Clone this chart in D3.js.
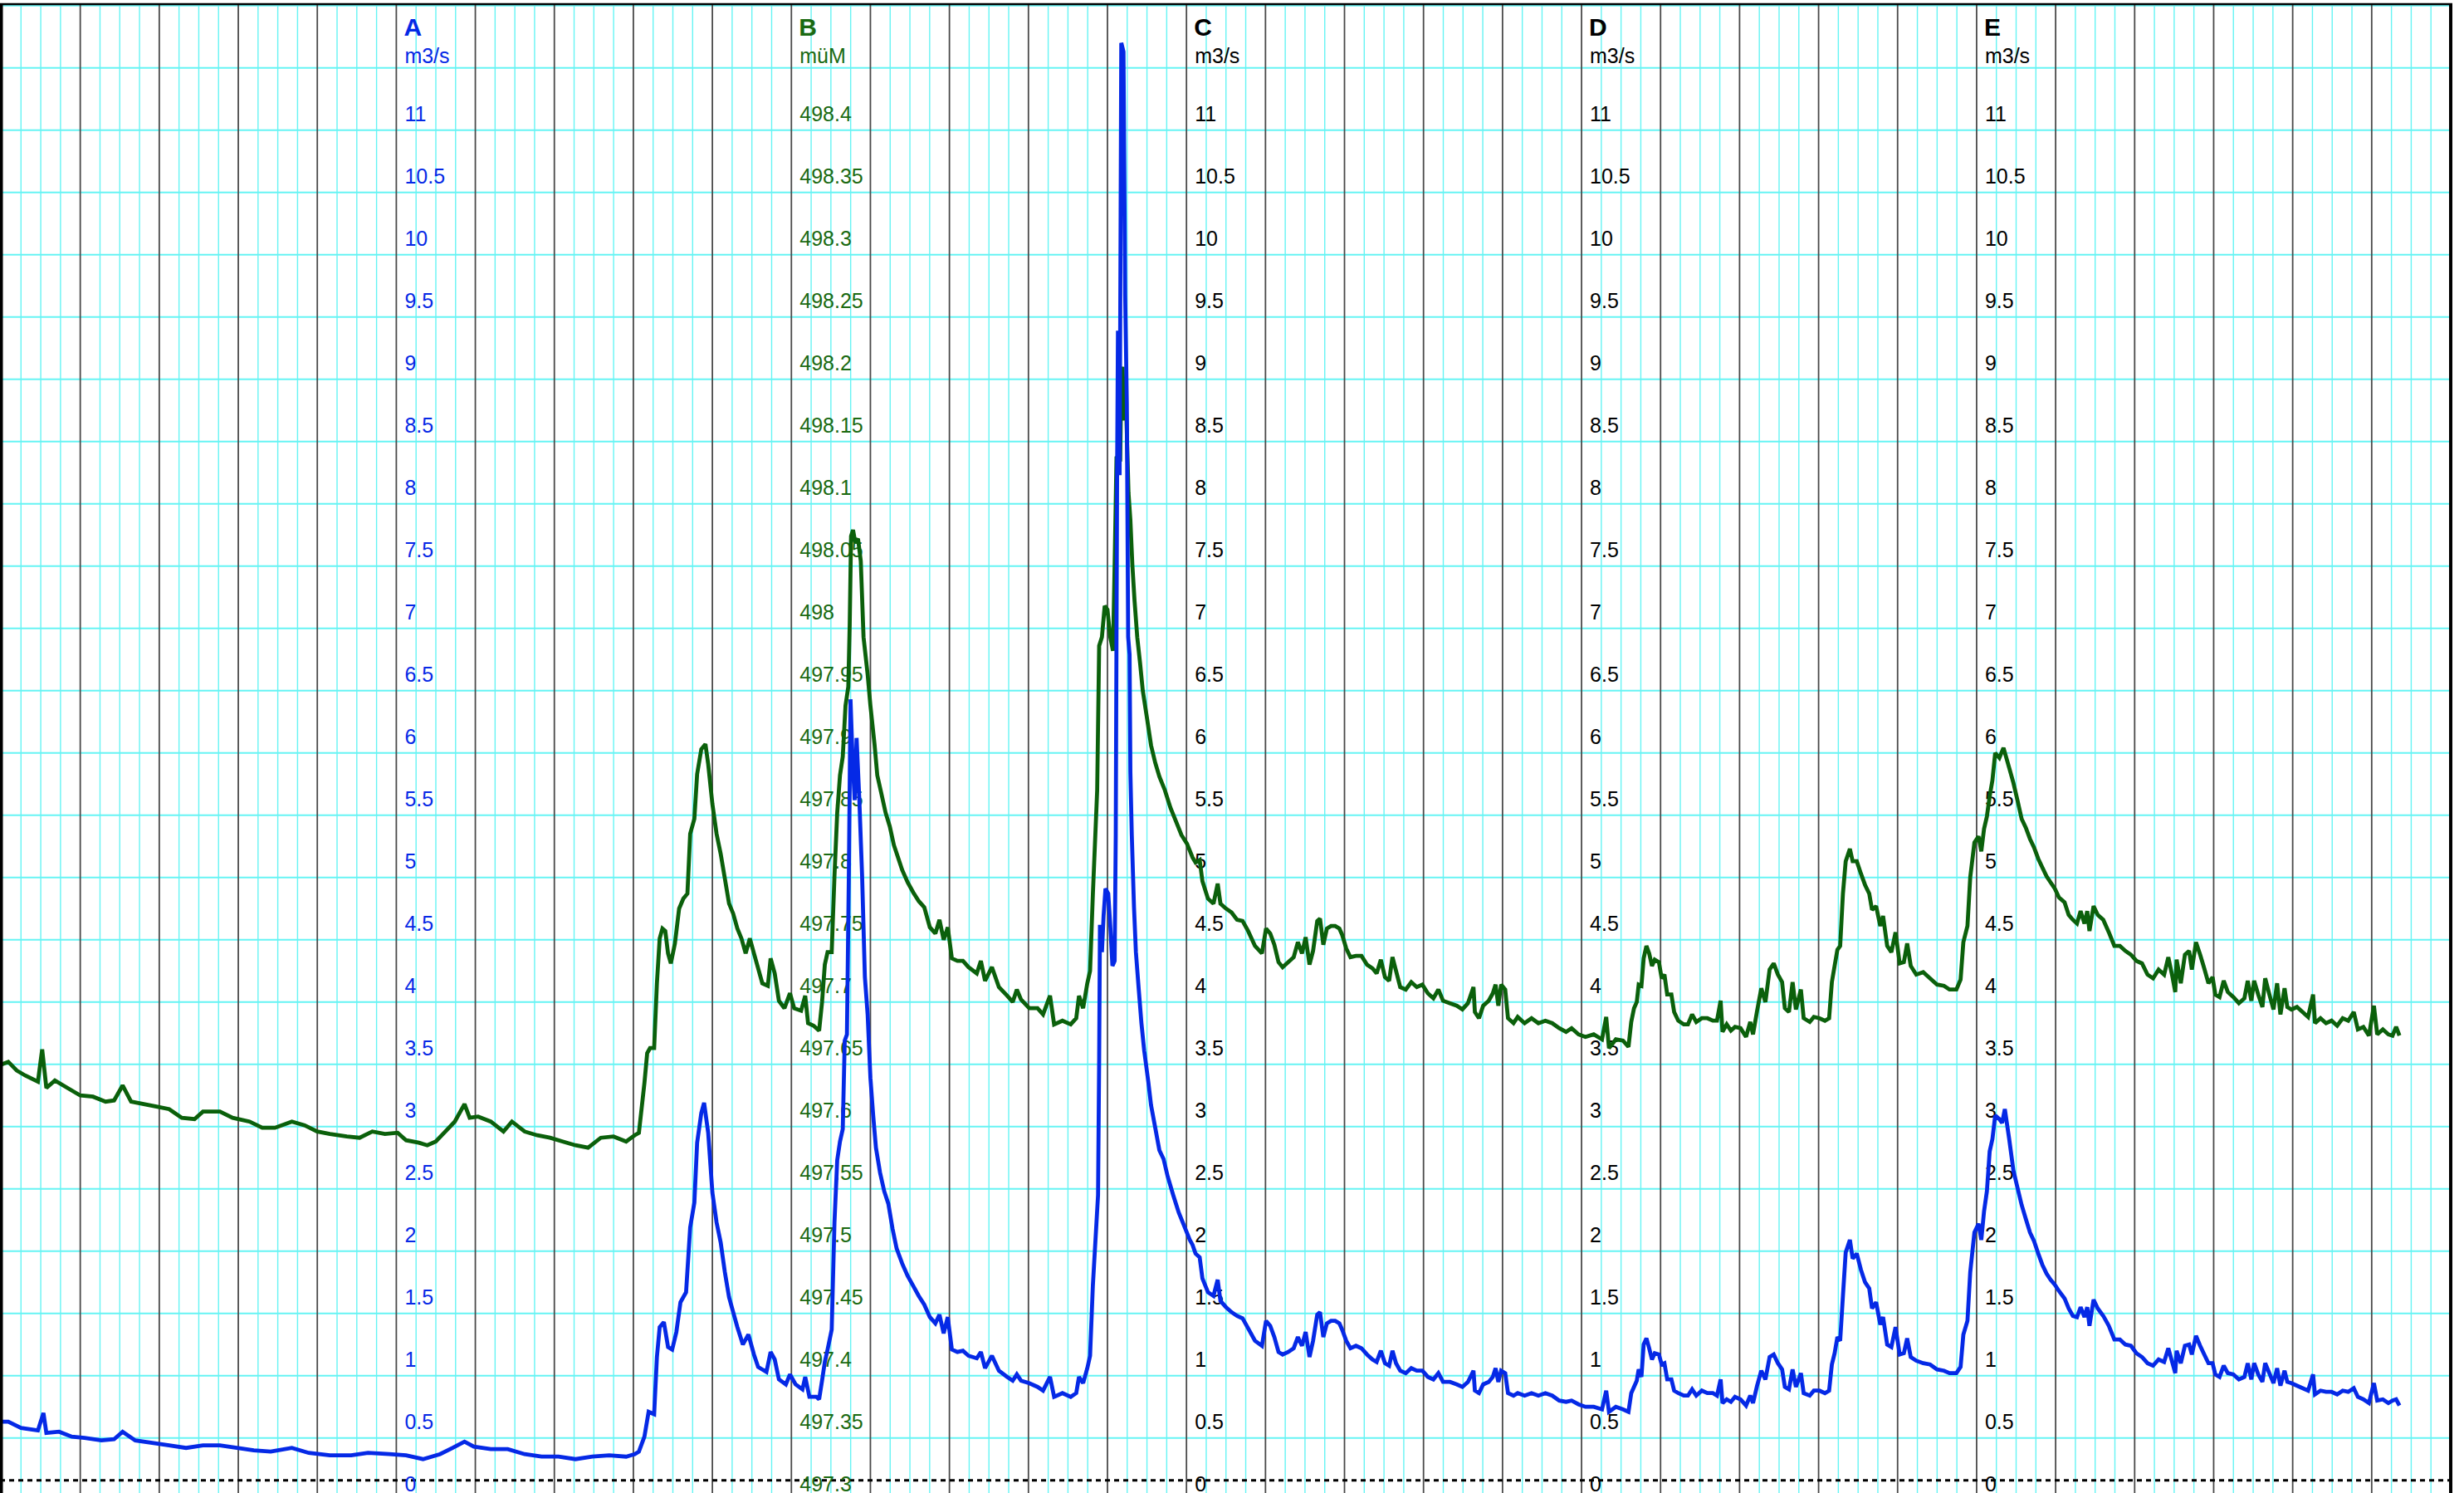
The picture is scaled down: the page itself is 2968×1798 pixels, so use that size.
<!DOCTYPE html>
<html lang="de">
<head>
<meta charset="UTF-8">
<title>Abfluss und Pegel</title>
<style>
  body { margin: 0; background: #fff; }
  svg { display: block; }
</style>
</head>
<body>
<div id="chart"></div>
<script src="https://d3js.org/d3.v7.min.js"></script>
<script>
// days from the start of the window, one dark grid line per day
const dayRange = [0, 31];

// axes standing at day 5, 10, 15, 20, 25
const axisNames = ["A", "B", "C", "D", "E"];
const axisUnits = ["m3/s", "müM", "m3/s", "m3/s", "m3/s"];
const axisDays = [5, 10, 15, 20, 25];

const flowTicks = [0, 0.5, 1, 1.5, 2, 2.5, 3, 3.5, 4, 4.5, 5, 5.5, 6, 6.5, 7, 7.5, 8, 8.5, 9, 9.5, 10, 10.5, 11];
const levelTicks = [497.3, 497.35, 497.4, 497.45, 497.5, 497.55, 497.6, 497.65, 497.7, 497.75, 497.8, 497.85,
  497.9, 497.95, 498, 498.05, 498.1, 498.15, 498.2, 498.25, 498.3, 498.35, 498.4];

// A: discharge in m3/s  [day, value]
const flowA = [
  [0.009,0.47],[0.089,0.47],[0.25,0.42],[0.464,0.40],[0.534,0.54],[0.571,0.38],[0.732,0.39],[0.893,0.35],
  [1.054,0.34],[1.268,0.32],[1.428,0.33],[1.536,0.39],[1.696,0.32],[1.91,0.30],[2.125,0.28],[2.339,0.26],
  [2.553,0.28],[2.767,0.28],[2.982,0.26],[3.196,0.24],[3.41,0.23],[3.678,0.26],[3.892,0.22],[4.16,0.20],
  [4.428,0.20],[4.642,0.22],[4.91,0.21],[5.124,0.20],[5.338,0.17],[5.553,0.21],[5.713,0.26],[5.863,0.31],
  [5.981,0.27],[6.195,0.25],[6.41,0.25],[6.624,0.21],[6.838,0.19],[7.052,0.19],[7.267,0.17],[7.481,0.19],
  [7.695,0.20],[7.909,0.19],[8.016,0.21],[8.070,0.23],[8.140,0.35],[8.193,0.55],[8.263,0.53],[8.298,0.99],
  [8.333,1.23],[8.386,1.27],[8.439,1.07],[8.491,1.05],[8.544,1.19],[8.596,1.43],[8.667,1.51],[8.719,2.03],
  [8.772,2.23],[8.807,2.71],[8.860,2.95],[8.895,3.03],[8.947,2.79],[9.0,2.31],[9.053,2.07],[9.105,1.91],
  [9.158,1.67],[9.211,1.47],[9.263,1.35],[9.316,1.23],[9.386,1.09],[9.456,1.17],[9.526,1.01],[9.579,0.91],
  [9.684,0.87],[9.737,1.03],[9.789,0.97],[9.842,0.81],[9.930,0.77],[9.982,0.85],[10.053,0.77],[10.140,0.73],
  [10.175,0.83],[10.228,0.67],[10.316,0.67],[10.351,0.65],[10.388,0.80],[10.423,0.95],[10.458,1.05],[10.510,1.21],
  [10.545,2.07],[10.580,2.57],[10.615,2.72],[10.650,2.82],[10.675,3.53],[10.703,3.58],[10.727,4.85],[10.748,6.27],
  [10.773,5.81],[10.801,5.46],[10.825,5.96],[10.860,5.46],[10.895,4.85],[10.930,4.04],[10.965,3.74],[11.0,3.23],
  [11.035,2.93],[11.070,2.67],[11.122,2.47],[11.175,2.32],[11.227,2.22],[11.280,2.02],[11.332,1.86],[11.402,1.74],
  [11.472,1.64],[11.542,1.56],[11.612,1.48],[11.682,1.41],[11.752,1.31],[11.822,1.26],[11.874,1.33],[11.927,1.18],
  [11.979,1.31],[12.031,1.05],[12.101,1.03],[12.171,1.04],[12.241,1.00],[12.346,0.98],[12.398,1.03],[12.451,0.90],
  [12.538,1.00],[12.626,0.88],[12.731,0.83],[12.801,0.80],[12.853,0.85],[12.906,0.80],[13.010,0.78],[13.115,0.75],
  [13.185,0.72],[13.273,0.83],[13.325,0.67],[13.430,0.70],[13.535,0.67],[13.605,0.70],[13.640,0.83],[13.692,0.78],
  [13.745,0.90],[13.780,1.00],[13.815,1.56],[13.881,2.29],[13.895,3.38],[13.905,4.46],[13.930,4.24],[13.951,4.53],
  [13.975,4.75],[14.010,4.71],[14.035,4.46],[14.063,4.13],[14.091,4.17],[14.105,5.18],[14.122,8.07],[14.133,9.23],
  [14.154,8.07],[14.175,11.54],[14.203,11.47],[14.224,9.52],[14.245,8.65],[14.262,6.77],[14.280,6.63],[14.290,5.69],
  [14.308,5.18],[14.336,4.60],[14.360,4.24],[14.395,3.95],[14.430,3.67],[14.465,3.45],[14.517,3.20],[14.552,3.01],
  [14.605,2.83],[14.657,2.65],[14.710,2.58],[14.762,2.44],[14.832,2.29],[14.902,2.15],[14.972,2.04],[15.042,1.93],
  [15.077,1.89],[15.115,1.82],[15.167,1.79],[15.202,1.62],[15.272,1.51],[15.342,1.48],[15.395,1.61],[15.430,1.44],
  [15.500,1.39],[15.570,1.35],[15.640,1.32],[15.710,1.30],[15.780,1.22],[15.867,1.12],[15.955,1.08],[16.007,1.28],
  [16.060,1.24],[16.112,1.15],[16.165,1.03],[16.217,1.01],[16.287,1.03],[16.357,1.06],[16.410,1.15],[16.462,1.08],
  [16.508,1.19],[16.557,0.99],[16.602,1.12],[16.655,1.33],[16.690,1.35],[16.732,1.15],[16.777,1.26],[16.830,1.28],
  [16.882,1.28],[16.935,1.26],[16.970,1.21],[17.022,1.12],[17.075,1.06],[17.145,1.08],[17.215,1.06],[17.285,1.01],
  [17.355,0.97],[17.407,0.95],[17.460,1.04],[17.512,0.94],[17.565,0.92],[17.607,1.04],[17.652,0.94],[17.705,0.88],
  [17.775,0.86],[17.845,0.90],[17.915,0.88],[17.985,0.88],[18.055,0.83],[18.125,0.81],[18.188,0.86],[18.247,0.79],
  [18.335,0.79],[18.422,0.77],[18.492,0.75],[18.562,0.79],[18.632,0.88],[18.650,0.72],[18.702,0.70],[18.755,0.77],
  [18.825,0.79],[18.877,0.83],[18.912,0.90],[18.947,0.79],[18.982,0.88],[19.034,0.86],[19.069,0.70],[19.139,0.68],
  [19.192,0.70],[19.279,0.68],[19.367,0.70],[19.454,0.68],[19.542,0.70],[19.629,0.68],[19.717,0.64],[19.804,0.63],
  [19.874,0.64],[19.962,0.61],[20.049,0.59],[20.154,0.59],[20.259,0.57],[20.312,0.72],[20.347,0.55],[20.434,0.59],
  [20.524,0.57],[20.594,0.55],[20.629,0.70],[20.664,0.75],[20.699,0.80],[20.723,0.89],[20.758,0.83],[20.786,1.09],
  [20.821,1.14],[20.856,1.06],[20.891,0.97],[20.926,1.02],[20.979,1.01],[21.014,0.93],[21.049,0.94],[21.084,0.81],
  [21.137,0.81],[21.172,0.72],[21.224,0.70],[21.294,0.68],[21.347,0.68],[21.399,0.73],[21.452,0.68],[21.522,0.72],
  [21.592,0.70],[21.662,0.70],[21.714,0.68],[21.760,0.81],[21.784,0.62],[21.837,0.65],[21.890,0.63],[21.942,0.67],
  [22.012,0.65],[22.082,0.60],[22.135,0.68],[22.170,0.62],[22.222,0.76],[22.275,0.88],[22.327,0.81],[22.380,0.99],
  [22.432,1.01],[22.485,0.94],[22.538,0.89],[22.573,0.75],[22.625,0.73],[22.671,0.89],[22.713,0.75],[22.776,0.86],
  [22.811,0.70],[22.888,0.68],[22.940,0.72],[23.010,0.72],[23.080,0.70],[23.133,0.72],[23.168,0.93],[23.203,1.02],
  [23.238,1.15],[23.273,1.12],[23.308,1.48],[23.343,1.83],[23.396,1.93],[23.431,1.78],[23.483,1.82],[23.536,1.69],
  [23.588,1.59],[23.641,1.54],[23.676,1.38],[23.728,1.43],[23.781,1.25],[23.816,1.31],[23.868,1.09],[23.921,1.07],
  [23.974,1.23],[24.026,1.01],[24.079,1.02],[24.121,1.14],[24.166,0.99],[24.236,0.96],[24.324,0.94],[24.411,0.93],
  [24.499,0.89],[24.587,0.88],[24.657,0.86],[24.744,0.86],[24.797,0.91],[24.832,1.17],[24.884,1.28],[24.919,1.67],
  [24.972,1.99],[25.024,2.06],[25.059,1.93],[25.094,2.16],[25.130,2.32],[25.165,2.64],[25.200,2.74],[25.235,2.93],
  [25.288,2.90],[25.323,2.87],[25.357,2.98],[25.412,2.74],[25.465,2.49],[25.517,2.35],[25.570,2.21],[25.622,2.10],
  [25.675,1.99],[25.727,1.92],[25.780,1.82],[25.832,1.73],[25.885,1.66],[25.937,1.61],[25.990,1.57],[26.042,1.52],
  [26.113,1.46],[26.165,1.38],[26.218,1.32],[26.270,1.31],[26.316,1.39],[26.365,1.31],[26.400,1.39],[26.428,1.24],
  [26.480,1.45],[26.533,1.38],[26.603,1.32],[26.673,1.24],[26.743,1.13],[26.813,1.13],[26.883,1.09],[26.953,1.08],
  [27.023,1.02],[27.093,0.99],[27.163,0.94],[27.233,0.92],[27.303,0.97],[27.373,0.95],[27.426,1.06],[27.479,0.94],
  [27.514,0.86],[27.531,1.04],[27.584,0.94],[27.636,1.08],[27.689,1.09],[27.724,1.01],[27.776,1.16],[27.829,1.08],
  [27.881,1.01],[27.934,0.94],[27.986,0.94],[28.021,0.85],[28.074,0.83],[28.127,0.92],[28.179,0.86],[28.249,0.85],
  [28.319,0.81],[28.389,0.83],[28.431,0.94],[28.477,0.81],[28.512,0.94],[28.564,0.85],[28.617,0.79],[28.652,0.94],
  [28.705,0.86],[28.757,0.78],[28.803,0.90],[28.845,0.76],[28.897,0.88],[28.932,0.79],[28.985,0.78],[29.054,0.76],
  [29.125,0.74],[29.195,0.72],[29.258,0.85],[29.282,0.69],[29.352,0.72],[29.422,0.71],[29.492,0.71],[29.563,0.69],
  [29.633,0.72],[29.703,0.71],[29.773,0.74],[29.825,0.67],[29.895,0.65],[29.965,0.62],[30.028,0.78],[30.070,0.64],
  [30.141,0.65],[30.211,0.62],[30.263,0.64],[30.309,0.65],[30.351,0.60]
];

// B: water level in müM  [day, value]
const levelB = [
  [0.009,497.634],[0.089,497.636],[0.196,497.629],[0.304,497.625],[0.464,497.620],[0.518,497.646],[0.571,497.615],
  [0.679,497.621],[0.839,497.615],[1.0,497.609],[1.161,497.608],[1.321,497.604],[1.428,497.605],[1.536,497.617],
  [1.643,497.604],[1.803,497.602],[1.964,497.600],[2.125,497.598],[2.285,497.591],[2.446,497.590],[2.553,497.596],
  [2.767,497.596],[2.928,497.591],[3.142,497.588],[3.303,497.583],[3.464,497.583],[3.678,497.588],[3.839,497.585],
  [3.999,497.580],[4.16,497.578],[4.374,497.576],[4.535,497.575],[4.696,497.580],[4.856,497.578],[5.017,497.579],
  [5.124,497.573],[5.285,497.571],[5.392,497.569],[5.499,497.572],[5.606,497.579],[5.74,497.588],[5.863,497.602],
  [5.928,497.591],[6.035,497.592],[6.195,497.588],[6.356,497.580],[6.463,497.588],[6.624,497.580],[6.784,497.577],
  [6.945,497.575],[7.106,497.572],[7.267,497.569],[7.427,497.567],[7.588,497.575],[7.749,497.576],[7.909,497.572],
  [8.016,497.577],[8.070,497.579],[8.140,497.619],[8.175,497.643],[8.211,497.647],[8.263,497.647],[8.298,497.699],
  [8.333,497.735],[8.368,497.743],[8.404,497.741],[8.439,497.723],[8.474,497.715],[8.526,497.731],[8.579,497.759],
  [8.632,497.767],[8.684,497.771],[8.719,497.819],[8.772,497.831],[8.807,497.867],[8.860,497.887],[8.912,497.891],
  [8.947,497.875],[9.0,497.843],[9.053,497.819],[9.105,497.803],[9.158,497.783],[9.211,497.763],[9.263,497.755],
  [9.316,497.743],[9.368,497.735],[9.421,497.723],[9.474,497.735],[9.526,497.723],[9.579,497.711],[9.632,497.699],
  [9.702,497.697],[9.737,497.719],[9.789,497.707],[9.842,497.685],[9.912,497.679],[9.982,497.691],[10.035,497.679],
  [10.123,497.677],[10.175,497.689],[10.211,497.667],[10.281,497.665],[10.351,497.661],[10.388,497.684],[10.423,497.714],
  [10.458,497.724],[10.510,497.724],[10.545,497.785],[10.580,497.836],[10.615,497.866],[10.650,497.881],[10.685,497.922],
  [10.720,497.937],[10.738,497.987],[10.755,498.058],[10.780,498.063],[10.808,498.053],[10.843,498.056],[10.878,498.038],
  [10.913,497.977],[10.965,497.947],[11.0,497.922],[11.052,497.891],[11.087,497.866],[11.140,497.851],[11.192,497.836],
  [11.245,497.825],[11.297,497.810],[11.350,497.800],[11.402,497.790],[11.472,497.780],[11.542,497.772],[11.612,497.765],
  [11.682,497.760],[11.752,497.744],[11.822,497.739],[11.874,497.750],[11.927,497.734],[11.979,497.744],[12.031,497.719],
  [12.101,497.717],[12.171,497.717],[12.241,497.712],[12.346,497.707],[12.398,497.717],[12.451,497.701],[12.538,497.712],
  [12.626,497.696],[12.731,497.689],[12.801,497.684],[12.853,497.694],[12.906,497.686],[13.010,497.679],[13.115,497.679],
  [13.185,497.674],[13.273,497.689],[13.325,497.666],[13.430,497.669],[13.535,497.666],[13.605,497.671],[13.640,497.689],
  [13.692,497.679],[13.745,497.699],[13.780,497.709],[13.815,497.770],[13.870,497.854],[13.895,497.970],[13.930,497.977],
  [13.965,498.002],[14.0,497.999],[14.035,497.977],[14.070,497.966],[14.091,498.035],[14.115,498.122],[14.161,498.118],
  [14.175,498.187],[14.192,498.194],[14.210,498.151],[14.238,498.158],[14.266,498.093],[14.290,498.071],[14.315,498.035],
  [14.343,498.006],[14.377,497.977],[14.413,497.956],[14.447,497.934],[14.500,497.912],[14.552,497.890],[14.605,497.876],
  [14.657,497.865],[14.727,497.854],[14.797,497.840],[14.867,497.829],[14.937,497.818],[15.007,497.811],[15.077,497.800],
  [15.115,497.796],[15.167,497.798],[15.202,497.781],[15.272,497.767],[15.342,497.763],[15.395,497.779],[15.430,497.763],
  [15.500,497.759],[15.570,497.756],[15.640,497.750],[15.710,497.749],[15.780,497.741],[15.867,497.729],[15.955,497.723],
  [16.007,497.743],[16.060,497.739],[16.112,497.730],[16.165,497.716],[16.217,497.712],[16.287,497.716],[16.357,497.720],
  [16.410,497.732],[16.462,497.723],[16.508,497.736],[16.557,497.714],[16.602,497.725],[16.655,497.749],[16.690,497.751],
  [16.732,497.730],[16.777,497.743],[16.830,497.745],[16.882,497.745],[16.935,497.743],[16.970,497.738],[17.022,497.727],
  [17.075,497.720],[17.145,497.721],[17.215,497.721],[17.285,497.714],[17.355,497.711],[17.407,497.707],[17.460,497.718],
  [17.512,497.704],[17.565,497.701],[17.607,497.720],[17.652,497.709],[17.705,497.696],[17.775,497.694],[17.845,497.700],
  [17.915,497.696],[17.985,497.698],[18.055,497.691],[18.125,497.687],[18.188,497.694],[18.247,497.685],[18.335,497.683],
  [18.422,497.681],[18.492,497.678],[18.562,497.683],[18.632,497.696],[18.650,497.676],[18.702,497.671],[18.755,497.681],
  [18.825,497.685],[18.877,497.691],[18.912,497.698],[18.947,497.681],[18.982,497.698],[19.034,497.694],[19.069,497.671],
  [19.139,497.667],[19.192,497.672],[19.279,497.667],[19.367,497.671],[19.454,497.667],[19.542,497.669],[19.629,497.667],
  [19.717,497.663],[19.804,497.660],[19.874,497.663],[19.962,497.658],[20.049,497.656],[20.154,497.658],[20.259,497.654],
  [20.312,497.672],[20.347,497.647],[20.434,497.654],[20.524,497.653],[20.594,497.648],[20.629,497.668],[20.664,497.679],
  [20.699,497.684],[20.723,497.698],[20.758,497.697],[20.786,497.719],[20.821,497.729],[20.856,497.723],[20.891,497.713],
  [20.926,497.718],[20.979,497.716],[21.014,497.703],[21.049,497.706],[21.084,497.690],[21.137,497.690],[21.172,497.676],
  [21.224,497.669],[21.294,497.666],[21.347,497.666],[21.399,497.674],[21.452,497.668],[21.522,497.671],[21.592,497.671],
  [21.662,497.669],[21.714,497.669],[21.760,497.685],[21.784,497.660],[21.837,497.666],[21.890,497.661],[21.942,497.664],
  [22.012,497.663],[22.082,497.656],[22.135,497.668],[22.170,497.658],[22.222,497.677],[22.275,497.695],[22.327,497.684],
  [22.380,497.710],[22.432,497.715],[22.485,497.706],[22.538,497.700],[22.573,497.679],[22.625,497.676],[22.671,497.700],
  [22.713,497.678],[22.776,497.694],[22.811,497.671],[22.888,497.668],[22.940,497.672],[23.010,497.671],[23.080,497.669],
  [23.133,497.671],[23.168,497.700],[23.203,497.713],[23.238,497.726],[23.273,497.729],[23.308,497.771],[23.343,497.797],
  [23.396,497.807],[23.431,497.797],[23.483,497.797],[23.536,497.787],[23.588,497.778],[23.641,497.771],[23.676,497.758],
  [23.728,497.761],[23.781,497.745],[23.816,497.753],[23.868,497.729],[23.921,497.724],[23.974,497.740],[24.026,497.715],
  [24.079,497.716],[24.121,497.731],[24.166,497.713],[24.236,497.706],[24.324,497.708],[24.411,497.703],[24.499,497.698],
  [24.587,497.697],[24.657,497.694],[24.744,497.694],[24.797,497.702],[24.832,497.732],[24.884,497.745],[24.919,497.784],
  [24.972,497.812],[25.024,497.817],[25.059,497.805],[25.094,497.823],[25.130,497.833],[25.165,497.849],[25.200,497.862],
  [25.235,497.884],[25.288,497.880],[25.340,497.888],[25.412,497.872],[25.465,497.860],[25.517,497.846],[25.570,497.831],
  [25.622,497.824],[25.675,497.815],[25.727,497.808],[25.780,497.799],[25.832,497.792],[25.885,497.785],[25.937,497.780],
  [25.990,497.775],[26.042,497.768],[26.113,497.764],[26.165,497.754],[26.218,497.750],[26.270,497.747],[26.316,497.757],
  [26.365,497.747],[26.400,497.757],[26.428,497.741],[26.480,497.761],[26.533,497.754],[26.603,497.750],[26.673,497.740],
  [26.743,497.729],[26.813,497.729],[26.883,497.725],[26.953,497.722],[27.023,497.717],[27.093,497.715],[27.163,497.706],
  [27.233,497.703],[27.303,497.710],[27.373,497.706],[27.426,497.720],[27.479,497.704],[27.514,497.692],[27.531,497.718],
  [27.584,497.699],[27.636,497.722],[27.689,497.725],[27.724,497.710],[27.776,497.732],[27.829,497.722],[27.881,497.711],
  [27.934,497.699],[27.986,497.704],[28.021,497.690],[28.074,497.688],[28.127,497.701],[28.179,497.692],[28.249,497.688],
  [28.319,497.683],[28.389,497.687],[28.431,497.701],[28.477,497.685],[28.512,497.701],[28.564,497.690],[28.617,497.680],
  [28.652,497.703],[28.705,497.690],[28.757,497.678],[28.803,497.699],[28.845,497.674],[28.897,497.695],[28.932,497.680],
  [28.985,497.678],[29.054,497.680],[29.125,497.676],[29.195,497.672],[29.258,497.690],[29.282,497.667],[29.352,497.671],
  [29.422,497.667],[29.492,497.669],[29.563,497.665],[29.633,497.671],[29.703,497.669],[29.773,497.676],[29.825,497.662],
  [29.895,497.664],[29.965,497.657],[30.028,497.681],[30.070,497.658],[30.141,497.662],[30.211,497.658],[30.263,497.657],
  [30.309,497.664],[30.351,497.657]
];

const width = 2968;
const height = 1798;

const blue = "#0529e6";
const green = "#0b600b";
const cyan = "#66f4f4";
const fontFamily = "'Liberation Sans', Arial, sans-serif";

const x = d3.scaleLinear().domain(dayRange).range([1.5, 2952]);
const yFlow = d3.scaleLinear().domain([0, 11]).range([1782.7, 132.7]);
const yLevel = d3.scaleLinear().domain([497.3, 498.4]).range([1782.7, 132.7]);

const svg = d3.select("#chart")
  .append("svg")
  .attr("width", width)
  .attr("height", height);

svg.append("rect").attr("width", width).attr("height", height).attr("fill", "#fff");

// quarter-day grid
const grid = svg.append("g");
grid.selectAll(".minor")
  .data(d3.range(dayRange[0], dayRange[1], 0.25).filter(d => d % 1 !== 0))
  .enter().append("line")
  .attr("x1", d => x(d)).attr("x2", d => x(d))
  .attr("y1", 5).attr("y2", height)
  .attr("stroke", cyan).attr("stroke-width", 1.4);

// horizontal grid, every 75 px on the flow scale
grid.selectAll(".hgrid")
  .data(d3.range(0.34, 12, 0.5))
  .enter().append("line")
  .attr("x1", 0).attr("x2", x(dayRange[1]))
  .attr("y1", d => yFlow(d)).attr("y2", d => yFlow(d))
  .attr("stroke", cyan).attr("stroke-width", 2);

// day lines
grid.selectAll(".major")
  .data(d3.range(dayRange[0] + 1, dayRange[1]))
  .enter().append("line")
  .attr("x1", d => x(d)).attr("x2", d => x(d))
  .attr("y1", 5).attr("y2", height)
  .attr("stroke", "#4a4a4a").attr("stroke-width", 1.8);

// zero line
svg.append("line")
  .attr("x1", 0).attr("x2", x(dayRange[1]))
  .attr("y1", yFlow(0)).attr("y2", yFlow(0))
  .attr("stroke", "#000").attr("stroke-width", 3)
  .attr("stroke-dasharray", "6,5");

// axes
const axisColors = [blue, "#1b6a12", "#000", "#000", "#000"];
axisNames.forEach((name, i) => {
  const isLevel = axisUnits[i] === "müM";
  const scale = isLevel ? yLevel : yFlow;
  const ticks = isLevel ? levelTicks : flowTicks;
  const ax = x(axisDays[i]);
  const color = axisColors[i];

  const g = svg.append("g")
    .attr("transform", `translate(${ax},0)`)
    .call(d3.axisRight(scale).tickValues(ticks).tickSize(0).tickFormat(d => String(d)));
  g.select(".domain").remove();
  g.attr("font-size", 25).attr("font-family", fontFamily);
  g.selectAll("text")
    .attr("x", 10)
    .attr("y", 13)
    .attr("dy", null)
    .attr("fill", color);

  svg.append("text")
    .attr("x", ax + 9).attr("y", 43)
    .attr("font-family", fontFamily).attr("font-size", 30).attr("font-weight", "bold")
    .attr("fill", color)
    .text(name);
  svg.append("text")
    .attr("x", ax + 10).attr("y", 76)
    .attr("font-family", fontFamily).attr("font-size", 25)
    .attr("fill", color)
    .text(axisUnits[i]);
});

// series
const flowLine = d3.line().x(d => x(d[0])).y(d => yFlow(d[1]));
const levelLine = d3.line().x(d => x(d[0])).y(d => yLevel(d[1]));

svg.append("path")
  .datum(levelB)
  .attr("d", levelLine)
  .attr("fill", "none")
  .attr("stroke", green).attr("stroke-width", 4.8)
  .attr("stroke-linejoin", "miter").attr("stroke-miterlimit", 2);

svg.append("path")
  .datum(flowA)
  .attr("d", flowLine)
  .attr("fill", "none")
  .attr("stroke", blue).attr("stroke-width", 4.8)
  .attr("stroke-linejoin", "miter").attr("stroke-miterlimit", 2);

// frame
svg.append("line")
  .attr("x1", 0).attr("x2", 2954).attr("y1", 5).attr("y2", 5)
  .attr("stroke", "#000").attr("stroke-width", 2.5);
svg.append("rect").attr("x", 0).attr("y", 4).attr("width", 3.5).attr("height", height).attr("fill", "#000");
svg.append("rect").attr("x", 2950).attr("y", 4).attr("width", 4).attr("height", height).attr("fill", "#000");
</script>
</body>
</html>
